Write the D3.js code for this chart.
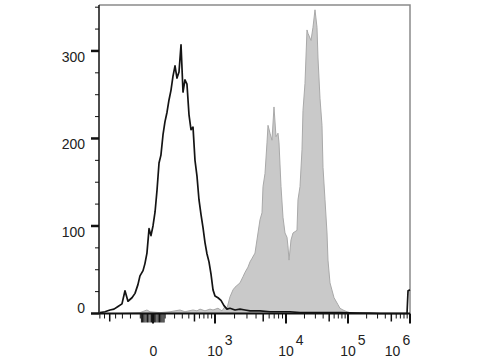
<!DOCTYPE html>
<html>
<head>
<meta charset="utf-8">
<script src="https://cdn.jsdelivr.net/npm/d3@7"></script>
<style>
  body { margin: 0; background: #fff; }
  svg { display: block; }
  text { font-family: "Liberation Sans", Arial, sans-serif; font-size: 14px; fill: #222; }
</style>
</head>
<body>
<div id="chart"></div>
<script>
// control (black line) - intensity / event count
const controlX = [-697, -591, -495, -426, -363, -306, -266, -229, -183, -151, -122, -103, -76, -60, -44, -28, -14,
    0, 15, 30, 46, 62, 80, 98, 118, 138, 159, 181, 205, 229, 255, 282, 310, 339, 370, 403, 437, 473, 510,
    549, 590, 634, 679, 726, 776, 828, 883, 940, 1000, 1118, 1248, 1389, 1544, 1712, 2028, 2394, 2817,
    3306, 4525, 6160, 8345, 11630, 16920, 35580, 74460, 328500, 895000, 930000, 1000000];
const controlCount = [1, 2, 4, 5, 8, 11, 26, 14, 18, 23, 33, 43, 49, 57, 69, 97, 89,
    100, 116, 141, 172, 181, 204, 219, 230, 244, 255, 271, 283, 269, 276, 307, 253, 267, 262, 227, 210, 213, 175,
    157, 130, 113, 98, 81, 68, 59, 45, 27, 20, 18, 15, 9, 5, 6, 4, 5, 4,
    3, 3, 2, 2, 2, 1, 1, 1, 0, 0, 26, 27];

// stained sample (grey filled)
const stainedX = [-700, -334, -103, -44, -21, 54, 149, 268, 339, 473, 549, 612, 726, 855, 940, 1118, 1294, 1440,
    1544, 1712, 1896, 2028, 2241, 2394, 2640, 2817, 3102, 3306, 3523, 3871, 4254, 4525, 4814, 4968, 5284,
    5618, 5794, 6160, 6547, 6957, 7395, 7857, 8100, 8604, 9136, 9702, 10390, 10790, 11200, 12080, 13020,
    15120, 15700, 16920, 18230, 18920, 20390, 21970, 22800, 25490, 27450, 29560, 31830, 33040, 35580, 38310,
    39770, 42810, 46110, 47830, 51490, 59800, 69260, 74460, 83150, 96390, 107700, 120500, 226500, 328500, 1000000];
const stainedCount = [0, 0, 1, 4, 2, 1, 2, 4, 2, 4, 3, 5, 3, 5, 4, 6, 3, 8,
    6, 19, 27, 30, 33, 35, 42, 47, 53, 59, 63, 69, 92, 107, 115, 145, 160,
    195, 215, 206, 198, 236, 202, 206, 195, 145, 110, 92, 87, 76, 61, 84, 92,
    95, 130, 145, 187, 232, 263, 324, 320, 312, 327, 347, 327, 292, 246, 215,
    167, 130, 92, 61, 35, 18, 10, 6, 4, 2, 1, 0, 1, 0, 0];

const xMajorTicks = [0, 1e3, 1e4, 1e5, 1e6];
const xMajorLabels = [["0", ""], ["10", "3"], ["10", "4"], ["10", "5"], ["10", "6"]];
const yTicks = [0, 100, 200, 300];
const yMax = 352.5;

let dimensions = {
    width: 480,
    height: 360,
    margin: { left: 99, right: 70, top: 5, bottom: 46.5 },
};
dimensions.boundedWidth = dimensions.width - dimensions.margin.left - dimensions.margin.right;
dimensions.boundedHeight = dimensions.height - dimensions.margin.top - dimensions.margin.bottom;

const wrapper = d3.select("#chart").append("svg")
    .attr("width", dimensions.width)
    .attr("height", dimensions.height);

const bounds = wrapper.append("g")
    .attr("transform", `translate(${dimensions.margin.left},${dimensions.margin.top})`);

// biexponential-like display: symlog pieces pinned on the decades
const xStops = [0, 0.1736, 0.373, 0.6013, 0.8006, 1];
const xScaler = d3.scaleSymlog()
    .constant(300)
    .domain([-720, 0, 1e3, 1e4, 1e5, 1e6])
    .range(xStops.map(f => f * dimensions.boundedWidth));

const yScaler = d3.scaleLinear()
    .domain([0, yMax])
    .range([dimensions.boundedHeight, 0]);

// frame (top + right)
bounds.append("path")
    .attr("d", `M0,0H${dimensions.boundedWidth}V${dimensions.boundedHeight}`)
    .attr("fill", "none")
    .attr("stroke", "#8a8a8a")
    .attr("stroke-width", 1.5);

const stained = stainedX.map((v, i) => [v, stainedCount[i]]);
const control = controlX.map((v, i) => [v, controlCount[i]]);

const areaGen = d3.area()
    .x(d => xScaler(d[0]))
    .y0(yScaler(0))
    .y1(d => yScaler(d[1]));

bounds.append("path")
    .datum(stained)
    .attr("d", areaGen)
    .attr("fill", "#c9c9c9")
    .attr("stroke", "#a9a9a9")
    .attr("stroke-width", 1);

const lineGen = d3.line()
    .x(d => xScaler(d[0]))
    .y(d => yScaler(d[1]));

bounds.append("path")
    .datum(control)
    .attr("d", lineGen)
    .attr("fill", "none")
    .attr("stroke", "#141414")
    .attr("stroke-width", 1.7)
    .attr("stroke-linejoin", "round");

// y axis
const yAxis = bounds.append("g");
yAxis.append("line")
    .attr("y1", 0).attr("y2", dimensions.boundedHeight)
    .attr("stroke", "#111").attr("stroke-width", 1.5);
yAxis.selectAll(".ytick")
    .data(d3.range(0, yMax, 25))
    .enter().append("line")
    .attr("x1", d => (d % 100 === 0 ? -8 : -4))
    .attr("x2", 0)
    .attr("y1", d => yScaler(d))
    .attr("y2", d => yScaler(d))
    .attr("stroke", "#111")
    .attr("stroke-width", d => (d % 100 === 0 ? 2.5 : 1));
yAxis.selectAll(".ylabel")
    .data(yTicks)
    .enter().append("text")
    .attr("x", -14)
    .attr("y", d => yScaler(d))
    .attr("dy", d => (d === 0 ? "-0.05em" : "0.78em"))
    .attr("text-anchor", "end")
    .text(d => d);

// x axis
let xMinor = [];
[-1, 1].forEach(s => {
    d3.range(10, 100, 10).forEach(v => xMinor.push({ v: s * v, len: 9, w: 1 }));
});
d3.range(100, 800, 100).forEach(v => xMinor.push({ v: -v, len: v === 500 ? 8 : 5, w: v === 500 ? 1.5 : 1 }));
d3.range(100, 1000, 100).forEach(v => xMinor.push({ v: v, len: v === 500 ? 8 : 5, w: v === 500 ? 1.5 : 1 }));
[1e3, 1e4, 1e5].forEach(dec => {
    d3.range(2, 10).forEach(m => xMinor.push({ v: m * dec, len: m === 5 ? 8 : 5, w: m === 5 ? 1.5 : 1 }));
});

const xAxis = bounds.append("g")
    .attr("transform", `translate(0,${dimensions.boundedHeight})`);
xAxis.selectAll(".xminor")
    .data(xMinor)
    .enter().append("line")
    .attr("x1", d => xScaler(d.v))
    .attr("x2", d => xScaler(d.v))
    .attr("y1", 0)
    .attr("y2", d => d.len)
    .attr("stroke", "#111")
    .attr("stroke-width", d => d.w);
xAxis.selectAll(".xmajor")
    .data(xMajorTicks)
    .enter().append("line")
    .attr("x1", d => xScaler(d))
    .attr("x2", d => xScaler(d))
    .attr("y1", 0)
    .attr("y2", 10)
    .attr("stroke", "#111")
    .attr("stroke-width", 2);
xAxis.append("line")
    .attr("x1", 0).attr("x2", dimensions.boundedWidth)
    .attr("stroke", "#111").attr("stroke-width", 2);

const baseHalf = 7.8; // half width of "10"
xMajorTicks.forEach((t, i) => {
    const [base, sup] = xMajorLabels[i];
    const px = xScaler(t);
    const label = xAxis.append("text").attr("y", 42.5);
    if (!sup) {
        label.attr("x", px + 0.5).attr("text-anchor", "middle").text(base);
        return;
    }
    let x0 = px - baseHalf;
    if (t === 1e6) x0 = px - 25.2;
    label.attr("x", x0);
    label.append("tspan").text(base);
    label.append("tspan").attr("dy", -11).attr("dx", 2).text(sup);
});
</script>
</body>
</html>
